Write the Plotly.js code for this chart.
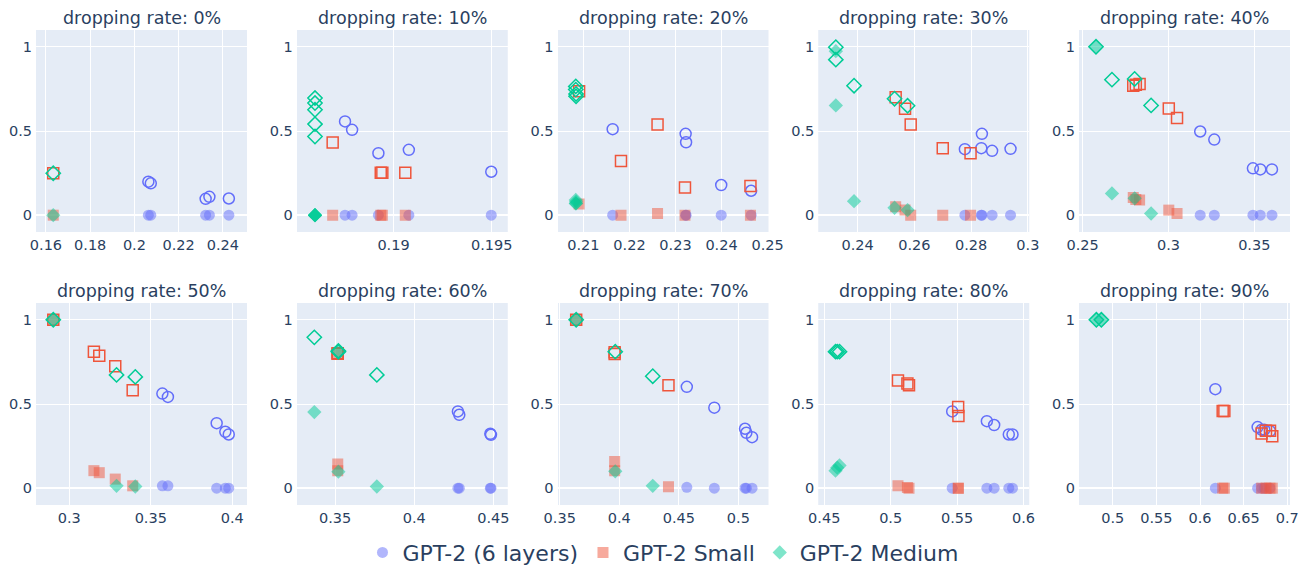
<!DOCTYPE html>
<html>
<head>
<meta charset="utf-8">
<script src="https://cdn.plot.ly/plotly-3.0.1.min.js"></script>
<style>html,body{margin:0;padding:0;background:#fff;}#chart{width:1310px;height:569px;}</style>
</head>
<body>
<div id="chart"></div>
<script>
// ---- data ----
const rates = [0, 10, 20, 30, 40, 50, 60, 70, 80, 90];
const modelNames = ["GPT-2 (6 layers)", "GPT-2 Small", "GPT-2 Medium"];

// GPT-2 (6 layers)
const l6X = [
  [0.2063, 0.2074, 0.2322, 0.2339, 0.2427],
  [0.18753, 0.18789, 0.18923, 0.19078, 0.19498],
  [0.21635, 0.2322, 0.2323, 0.23993, 0.24643],
  [0.2778, 0.2838, 0.2836, 0.2874, 0.2939],
  [0.3185, 0.3267, 0.3492, 0.3535, 0.3603],
  [0.3571, 0.3605, 0.3904, 0.3957, 0.3978],
  [0.4276, 0.4285, 0.4481, 0.4485],
  [0.4567, 0.4798, 0.5056, 0.5067, 0.5115],
  [0.5463, 0.5724, 0.5779, 0.5889, 0.5917],
  [0.6176, 0.666, 0.6706, 0.6737, 0.6802]
];
const l6Open = [
  [0.199, 0.189, 0.097, 0.109, 0.099],
  [0.557, 0.507, 0.368, 0.388, 0.258],
  [0.511, 0.483, 0.433, 0.179, 0.145],
  [0.392, 0.483, 0.398, 0.382, 0.394],
  [0.497, 0.449, 0.278, 0.272, 0.272],
  [0.562, 0.542, 0.386, 0.335, 0.319],
  [0.456, 0.436, 0.323, 0.317],
  [0.602, 0.478, 0.353, 0.329, 0.303],
  [0.456, 0.398, 0.375, 0.319, 0.319],
  [0.588, 0.363, 0.347, 0.347, 0.339]
];
const l6Filled = [
  [0, 0, 0, 0, 0],
  [0, 0, 0, 0, 0],
  [0, 0, 0, 0, 0],
  [0, 0, 0, 0, 0],
  [0, 0, 0, 0, 0],
  [0.014, 0.014, 0, 0, 0],
  [0, 0, 0, 0],
  [0.005, 0, 0, 0, 0],
  [0, 0, 0, 0, 0],
  [0, 0, 0, 0, 0]
];

// GPT-2 Small
const smX = [
  [0.1633],
  [0.1869, 0.18935, 0.18943, 0.1906],
  [0.20906, 0.21816, 0.2261, 0.23206, 0.24628],
  [0.2534, 0.2567, 0.2587, 0.27, 0.2798],
  [0.2795, 0.281, 0.2832, 0.3002, 0.305],
  [0.2902, 0.3151, 0.3184, 0.3282, 0.3389],
  [0.3517, 0.3517, 0.3517],
  [0.3638, 0.3961, 0.3961, 0.4413],
  [0.5055, 0.5126, 0.5138, 0.5508, 0.551],
  [0.626, 0.6279, 0.6706, 0.6756, 0.6802, 0.6828]
];
const smOpen = [
  [0.249],
  [0.431, 0.252, 0.252, 0.252],
  [0.736, 0.322, 0.539, 0.165, 0.173],
  [0.7, 0.632, 0.539, 0.398, 0.368],
  [0.769, 0.775, 0.779, 0.634, 0.577],
  [1, 0.811, 0.787, 0.725, 0.582],
  [0.8, 0.8, 0.8],
  [1, 0.807, 0.797, 0.612],
  [0.639, 0.622, 0.612, 0.482, 0.428],
  [0.458, 0.458, 0.325, 0.341, 0.341, 0.309]
];
const smFilled = [
  [0],
  [0, 0, 0, 0],
  [0.066, 0, 0.01, 0, 0],
  [0.05, 0.03, 0, 0, 0],
  [0.105, 0.093, 0.09, 0.03, 0.01],
  [1, 0.104, 0.092, 0.054, 0.014],
  [0.8, 0.143, 0.104],
  [1, 0.159, 0.104, 0.008],
  [0.014, 0.004, 0, 0, 0],
  [0, 0, 0, 0, 0, 0]
];

// GPT-2 Medium
const mdX = [
  [0.1633],
  [0.186, 0.186, 0.186, 0.186, 0.186],
  [0.20834, 0.20834, 0.2084, 0.2084],
  [0.2323, 0.2323, 0.23872, 0.253, 0.2576],
  [0.2578, 0.2671, 0.2803, 0.2899],
  [0.2902, 0.329, 0.3405],
  [0.3369, 0.3521, 0.3521, 0.3764],
  [0.3638, 0.3966, 0.4281],
  [0.4585, 0.4598, 0.4615],
  [0.4813, 0.487]
];
const mdOpen = [
  [0.249],
  [0.696, 0.666, 0.626, 0.541, 0.467],
  [0.765, 0.746, 0.72, 0.706],
  [0.998, 0.924, 0.769, 0.692, 0.65],
  [1, 0.805, 0.809, 0.652],
  [1, 0.673, 0.661],
  [0.896, 0.815, 0.81, 0.673],
  [1, 0.811, 0.665],
  [0.811, 0.811, 0.811],
  [1, 1]
];
const mdFilled = [
  [0],
  [0, 0, 0, 0, 0],
  [0.07, 0.09, 0.08, 0.07],
  [0.974, 0.652, 0.083, 0.044, 0.03],
  [1, 0.129, 0.1, 0.01],
  [1, 0.014, 0.01],
  [0.452, 0.81, 0.098, 0.01],
  [1, 0.1, 0.014],
  [0.104, 0.122, 0.135],
  [1, 1]
];

// x-axis ranges per panel
const xRanges = [
  [0.1555, 0.2509], [0.18507, 0.19582], [0.20437, 0.2502], [0.2261, 0.3005], [0.2479, 0.3708],
  [0.2796, 0.409], [0.3258, 0.4591], [0.3481, 0.5253], [0.4455, 0.6043], [0.4614, 0.7031]
];

// ---- build figure ----
const colors = ["#636efa", "#EF553B", "#00cc96"];
const symbols = ["circle", "square", "diamond"];
const xs = [l6X, smX, mdX];
const opens = [l6Open, smOpen, mdOpen];
const filleds = [l6Filled, smFilled, mdFilled];

const font = "DejaVu Sans, Verdana, sans-serif";
const traces = [];
const layout = {
  width: 1310, height: 569,
  margin: {l: 36, r: 20, t: 30, b: 64, autoexpand: false},
  paper_bgcolor: "#ffffff",
  plot_bgcolor: "#E5ECF6",
  font: {family: font, size: 17.5, color: "#2a3f5f"},
  showlegend: true,
  legend: {orientation: "h", x: 0.5, xanchor: "center", y: -0.056, yanchor: "top",
           font: {size: 22}, traceorder: "normal"},
  annotations: []
};

const colW = 211 / 1254, gapW = (1254 - 5 * 211) / 4 / 1254;
const rowH = 202 / 475;

rates.forEach((r, i) => {
  const row = Math.floor(i / 5), col = i % 5;
  const n = i + 1;
  const xa = n === 1 ? "x" : "x" + n, ya = n === 1 ? "y" : "y" + n;
  const x0 = col * (colW + gapW), x1 = x0 + colW;
  const y1 = row === 0 ? 1 : rowH, y0 = y1 - rowH;
  layout[n === 1 ? "xaxis" : "xaxis" + n] = {
    domain: [x0, x1], anchor: ya, range: xRanges[i],
    gridcolor: "white", linecolor: "white", zerolinecolor: "white", zerolinewidth: 2,
    tickfont: {size: 14.5}, ticks: "", automargin: false
  };
  layout[n === 1 ? "yaxis" : "yaxis" + n] = {
    domain: [y0, y1], anchor: xa, range: [-0.1, 1.1], tick0: 0, dtick: 0.5,
    gridcolor: "white", linecolor: "white", zerolinecolor: "white", zerolinewidth: 2,
    tickfont: {size: 14.5}, ticks: "", automargin: false
  };
  layout.annotations.push({
    text: "dropping rate: " + r + "%", showarrow: false,
    xref: "paper", yref: "paper", x: (x0 + x1) / 2, y: y1,
    xanchor: "center", yanchor: "bottom", font: {size: 17.5}
  });
  for (let m = 0; m < 3; m++) {
    traces.push({
      type: "scatter", mode: "markers", xaxis: xa, yaxis: ya,
      x: xs[m][i], y: filleds[m][i],
      name: modelNames[m], legendgroup: modelNames[m], showlegend: i === 0,
      marker: {symbol: symbols[m], color: colors[m], size: 11, opacity: 0.5}
    });
    traces.push({
      type: "scatter", mode: "markers", xaxis: xa, yaxis: ya,
      x: xs[m][i], y: opens[m][i],
      name: modelNames[m], legendgroup: modelNames[m], showlegend: false,
      marker: {symbol: symbols[m] + "-open", color: colors[m], size: 11, line: {width: 1.5}}
    });
  }
});

Plotly.newPlot("chart", traces, layout, {displayModeBar: false, responsive: false});
</script>
</body>
</html>
